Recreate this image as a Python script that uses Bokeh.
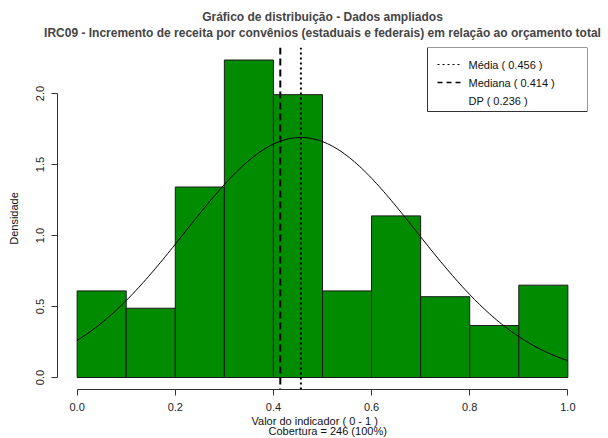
import numpy as np
from bokeh.plotting import figure
from bokeh.models import Range1d, Span, Label, FixedTicker, NumeralTickFormatter, Title
from bokeh.embed import file_html
from bokeh.resources import INLINE

# ---- data ----
bin_left = [0.0, 0.1, 0.2, 0.3, 0.4, 0.5, 0.6, 0.7, 0.8, 0.9]
bin_right = [0.1, 0.2, 0.3, 0.4, 0.5, 0.6, 0.7, 0.8, 0.9, 1.0]
density = [0.6098, 0.4878, 1.3415, 2.2358, 1.9919, 0.6098, 1.1382, 0.5691, 0.3659, 0.6504]
mean_val = 0.456
median_val = 0.414
sd_val = 0.236
n_obs = 246
x_ticks = [0.0, 0.2, 0.4, 0.6, 0.8, 1.0]
y_ticks = [0.0, 0.5, 1.0, 1.5, 2.0]

title1 = "Gráfico de distribuição - Dados ampliados"
title2 = "IRC09 - Incremento de receita por convênios (estaduais e federais) em relação ao orçamento total"
xlab1 = "Valor do indicador ( 0 - 1 )"
xlab2 = f"Cobertura = {n_obs} (100%)"
ylab = "Densidade"

FONT = "Liberation Sans"

# frame geometry (page pixels)
W, H = 608, 438
FL, FR, FT, FB = 57, 587, 47, 389
XMIN, XMAX = -0.04, 1.04
YMIN, YMAX = -0.0845, 2.324


def dx(px):
    return XMIN + (px - FL) / (FR - FL) * (XMAX - XMIN)


def dy(py):
    return YMIN + (FB - py) / (FB - FT) * (YMAX - YMIN)


p = figure(width=W, height=H, output_backend="svg", toolbar_location=None,
           x_range=Range1d(XMIN, XMAX), y_range=Range1d(YMIN, YMAX),
           min_border_left=FL, min_border_right=W - FR,
           min_border_top=FT, min_border_bottom=H - FB)
p.outline_line_color = None
p.xgrid.visible = False
p.ygrid.visible = False
p.background_fill_color = "white"
p.border_fill_color = "white"

# titles (the added one sits nearest the frame, p.title above it)
p.title.text = title1
p.title.align = "center"
p.title.text_font = FONT
p.title.text_font_size = "12px"
p.title.text_font_style = "bold"
p.title.standoff = -15
p.add_layout(Title(text=title2, align="center", text_font=FONT, text_font_size="12px",
                   text_font_style="bold", standoff=15), "above")

# histogram bars
p.quad(left=bin_left, right=bin_right, bottom=0, top=density,
       fill_color="#008B00", line_color="#1a1a1a", line_width=1)

# normal curve
xs = np.linspace(0.0, 1.0, 201)
ys = np.exp(-0.5 * ((xs - mean_val) / sd_val) ** 2) / (sd_val * np.sqrt(2 * np.pi))
p.line(xs, ys, line_color="black", line_width=1)

# mean / median lines
p.add_layout(Span(location=mean_val, dimension="height", line_color="black",
                  line_width=2, line_dash="2 3"))
p.add_layout(Span(location=median_val, dimension="height", line_color="black",
                  line_width=2, line_dash="7 4"))

# axes
for ax, ticks, bounds in ((p.xaxis, x_ticks, (0.0, 1.0)), (p.yaxis, y_ticks, (0.0, 2.0))):
    ax.ticker = FixedTicker(ticks=ticks)
    ax.formatter = NumeralTickFormatter(format="0.0")
    ax.bounds = bounds
    ax.axis_line_color = "#333333"
    ax.major_tick_line_color = "#333333"
    ax.major_tick_out = 6
    ax.major_tick_in = 0
    ax.minor_tick_line_color = None
    ax.major_label_text_font = FONT
    ax.major_label_text_font_size = "11px"
    ax.major_label_text_color = "#222222"
p.xaxis.major_label_standoff = 7
p.yaxis.major_label_standoff = 7
p.yaxis.major_label_orientation = "vertical"
p.yaxis.axis_label = ylab
p.yaxis.axis_label_text_font = FONT
p.yaxis.axis_label_text_font_size = "11px"
p.yaxis.axis_label_text_font_style = "normal"
p.yaxis.axis_label_text_color = "#111111"
p.yaxis.axis_label_standoff = 14

# x labels as titles below the axis
p.add_layout(Title(text=xlab1, align="left", offset=251 - FL, text_font=FONT,
                   text_font_size="11px", text_font_style="normal", text_color="#111111",
                   standoff=-2), "below")
p.add_layout(Title(text=xlab2, align="left", offset=268 - FL, text_font=FONT,
                   text_font_size="11px", text_font_style="normal", text_color="#111111",
                   standoff=-5), "below")

# legend box
p.quad(left=dx(427), right=dx(587), top=dy(47), bottom=dy(111),
       fill_color="white", line_color="#333333", line_width=1)
p.segment(x0=dx(437), x1=dx(460), y0=dy(64), y1=dy(64), line_color="black",
          line_width=1.2, line_dash="2 3")
p.segment(x0=dx(437), x1=dx(460), y0=dy(82), y1=dy(82), line_color="black",
          line_width=1.5, line_dash="5 4")
leg_texts = [f"Média ( {mean_val:.3f} )", f"Mediana ( {median_val:.3f} )", f"DP ( {sd_val:.3f} )"]
for t, py in zip(leg_texts, (64, 82, 100)):
    p.add_layout(Label(x=dx(468), y=dy(py), text=t, text_font=FONT, text_font_size="11px",
                       text_align="left", text_baseline="middle", text_color="#111111"))

open("out.html", "w").write(file_html(p, INLINE))
